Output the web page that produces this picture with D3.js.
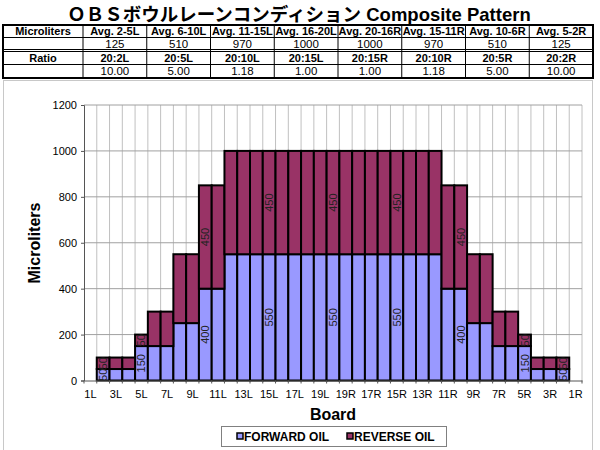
<!DOCTYPE html>
<html>
<head>
<meta charset="utf-8">
<script src="https://cdn.jsdelivr.net/npm/d3@7"></script>
<style>
  html, body { margin: 0; padding: 0; background: #fff; }
  svg { display: block; }
  text { font-family: Arial, "Liberation Sans", "Noto Sans CJK JP", sans-serif; }
</style>
</head>
<body>
<svg id="chart" width="600" height="450"></svg>
<script>
// ---------- data ----------
const titleText = "ＯＢＳボウルレーンコンディション Composite Pattern";

const tableRowLabels = ["Microliters", "Ratio"];
const avgHeaders = ["Avg. 2-5L", "Avg. 6-10L", "Avg. 11-15L", "Avg. 16-20L", "Avg. 20-16R", "Avg. 15-11R", "Avg. 10-6R", "Avg. 5-2R"];
const avgValues = ["125", "510", "970", "1000", "1000", "970", "510", "125"];
const ratioHeaders = ["20:2L", "20:5L", "20:10L", "20:15L", "20:15R", "20:10R", "20:5R", "20:2R"];
const ratioValues = ["10.00", "5.00", "1.18", "1.00", "1.00", "1.18", "5.00", "10.00"];

const boards = ["1L","2L","3L","4L","5L","6L","7L","8L","9L","10L","11L","12L","13L","14L","15L","16L","17L","18L","19L",
                "20",
                "19R","18R","17R","16R","15R","14R","13R","12R","11R","10R","9R","8R","7R","6R","5R","4R","3R","2R","1R"];
const forwardOil = [0,50,50,50,150,150,150,250,250,400,400,
                    550,550,550,550,550,550,550,550,550,550,550,550,550,550,550,550,550,
                    400,400,250,250,150,150,150,50,50,50,0];
const reverseOil = [0,50,50,50,50,150,150,300,300,450,450,
                    450,450,450,450,450,450,450,450,450,450,450,450,450,450,450,450,450,
                    450,450,300,300,150,150,50,50,50,50,0];
const tickBoards = ["1L","3L","5L","7L","9L","11L","13L","15L","17L","19L","19R","17R","15R","13R","11R","9R","7R","5R","3R","1R"];
const labeledBoards = ["2L","5L","10L","15L","20","15R","10R","5R","2R"];
const yTicks = [0, 200, 400, 600, 800, 1000, 1200];
const seriesNames = ["FORWARD OIL", "REVERSE OIL"];
const seriesColors = ["#9999FF", "#993366"];

// ---------- drawing ----------
const svg = d3.select("#chart");
svg.append("rect").attr("width", 600).attr("height", 450).attr("fill", "#fff");

// title
svg.append("text")
  .attr("x", 299).attr("y", 21)
  .attr("text-anchor", "middle")
  .attr("font-size", 18.5).attr("font-weight", "bold")
  .text(titleText);

// table
const tblLeft = 3, tblRight = 593, firstColW = 80;
const colW = (tblRight - tblLeft - firstColW) / avgHeaders.length;
const rowY = [[25, 37.5], [37.5, 49.5], [51.5, 64.5], [64.5, 78]];
const tableRows = [
  { label: tableRowLabels[0], cells: avgHeaders, bold: true },
  { label: "", cells: avgValues, bold: false },
  { label: tableRowLabels[1], cells: ratioHeaders, bold: true },
  { label: "", cells: ratioValues, bold: false }
];
const tbl = svg.append("g");
tableRows.forEach((r, ri) => {
  const [y0, y1] = rowY[ri];
  const cy = (y0 + y1) / 2 + 4.2;
  const fs = r.bold ? 11 : 11.5;
  tbl.append("text").attr("x", tblLeft + firstColW / 2).attr("y", cy)
    .attr("text-anchor", "middle").attr("font-size", fs)
    .attr("font-weight", r.bold ? "bold" : "normal").text(r.label);
  r.cells.forEach((c, ci) => {
    tbl.append("text").attr("x", tblLeft + firstColW + colW * (ci + 0.5)).attr("y", cy)
      .attr("text-anchor", "middle").attr("font-size", fs)
      .attr("font-weight", r.bold ? "bold" : "normal").text(c);
  });
});
// table lines
[37.5, 49.5, 51.5, 64.5].forEach(y => {
  tbl.append("line").attr("x1", tblLeft).attr("x2", tblRight).attr("y1", y).attr("y2", y)
    .attr("stroke", "#000").attr("stroke-width", 1);
});
for (let ci = 0; ci < avgHeaders.length; ci++) {
  const x = tblLeft + firstColW + colW * ci;
  tbl.append("line").attr("x1", x).attr("x2", x).attr("y1", 25).attr("y2", 78)
    .attr("stroke", "#000").attr("stroke-width", 1);
}
tbl.append("rect").attr("x", tblLeft).attr("y", 25).attr("width", tblRight - tblLeft).attr("height", 53)
  .attr("fill", "none").attr("stroke", "#000").attr("stroke-width", 2);

// chart area border
svg.append("rect").attr("x", 3.5).attr("y", 80.5).attr("width", 589).attr("height", 400)
  .attr("fill", "none").attr("stroke", "#c8c8c8").attr("stroke-width", 1);

// plot
const plot = { left: 84, right: 582, top: 105, bottom: 380.5 };
const x = d3.scaleBand().domain(boards).range([plot.left, plot.right]).padding(0);
const y = d3.scaleLinear().domain([0, 1200]).range([plot.bottom, plot.top]);

// gridlines
const grid = svg.append("g");
boards.forEach((b, i) => {
  if (i > 0) grid.append("line").attr("x1", x(b)).attr("x2", x(b)).attr("y1", plot.top).attr("y2", plot.bottom)
    .attr("stroke", "#c0c0c0").attr("stroke-width", 1);
});
grid.append("line").attr("x1", plot.right).attr("x2", plot.right).attr("y1", plot.top).attr("y2", plot.bottom)
  .attr("stroke", "#c0c0c0").attr("stroke-width", 1);
yTicks.forEach(t => {
  if (t > 0) grid.append("line").attr("x1", plot.left).attr("x2", plot.right).attr("y1", y(t)).attr("y2", y(t))
    .attr("stroke", "#a0a0a0").attr("stroke-width", 1);
});

// stacked bars
const table = boards.map((b, i) => ({ board: b, forward: forwardOil[i], reverse: reverseOil[i] }));
const stack = d3.stack().keys(["forward", "reverse"])(table);
const barG = svg.append("g");
stack.forEach((layer, li) => {
  barG.selectAll(null).data(layer.filter(d => d[1] - d[0] > 0)).enter().append("rect")
    .attr("x", d => x(d.data.board))
    .attr("width", x.bandwidth())
    .attr("y", d => y(d[1]))
    .attr("height", d => y(d[0]) - y(d[1]))
    .attr("fill", seriesColors[li])
    .attr("stroke", "#000").attr("stroke-width", 2);
});

// data labels
stack.forEach((layer, li) => {
  layer.filter(d => labeledBoards.includes(d.data.board)).forEach(d => {
    const cx = x(d.data.board) + x.bandwidth() / 2;
    const cy = (y(d[0]) + y(d[1])) / 2;
    barG.append("text")
      .attr("transform", `translate(${cx + 4},${cy}) rotate(-90)`)
      .attr("text-anchor", "middle").attr("font-size", 11).attr("fill", "#222")
      .text(d[1] - d[0]);
  });
});

// axes
const yAxis = d3.axisLeft(y).tickValues(yTicks).tickSize(3).tickPadding(4).tickFormat(d3.format("d"));
const yg = svg.append("g").attr("transform", `translate(${plot.left},0)`).call(yAxis);
yg.select(".domain").attr("stroke", "#555");
yg.selectAll(".tick line").attr("stroke", "#555");
yg.selectAll("text").attr("font-size", 11).attr("font-family", "Arial, 'Liberation Sans', sans-serif").attr("fill", "#000");

const xAxis = d3.axisBottom(x).tickValues(tickBoards).tickSize(0).tickPadding(10);
const xg = svg.append("g").attr("transform", `translate(0,${plot.bottom})`).call(xAxis);
xg.select(".domain").attr("stroke", "#555");
xg.selectAll("text").attr("font-size", 11).attr("font-family", "Arial, 'Liberation Sans', sans-serif").attr("fill", "#000");
// tick marks at category boundaries
boards.forEach(b => {
  xg.append("line").attr("x1", x(b)).attr("x2", x(b)).attr("y1", 0).attr("y2", 3).attr("stroke", "#555");
});
xg.append("line").attr("x1", plot.right).attr("x2", plot.right).attr("y1", 0).attr("y2", 3).attr("stroke", "#555");

// axis titles
svg.append("text").attr("transform", "translate(40,243) rotate(-90)")
  .attr("text-anchor", "middle").attr("font-size", 16).attr("font-weight", "bold").text("Microliters");
svg.append("text").attr("x", 333).attr("y", 420)
  .attr("text-anchor", "middle").attr("font-size", 16).attr("font-weight", "bold").text("Board");

// legend
const lg = svg.append("g");
lg.append("rect").attr("x", 221.5).attr("y", 426.5).attr("width", 225).attr("height", 20)
  .attr("fill", "#fff").attr("stroke", "#808080").attr("stroke-width", 1);
const legendX = [237, 347];
seriesNames.forEach((n, i) => {
  lg.append("rect").attr("x", legendX[i]).attr("y", 433).attr("width", 6).attr("height", 6)
    .attr("fill", seriesColors[i]).attr("stroke", "#000").attr("stroke-width", 1.5);
  lg.append("text").attr("x", legendX[i] + 7).attr("y", 441)
    .attr("font-size", 12).attr("font-weight", "bold").text(n);
});
</script>
</body>
</html>
